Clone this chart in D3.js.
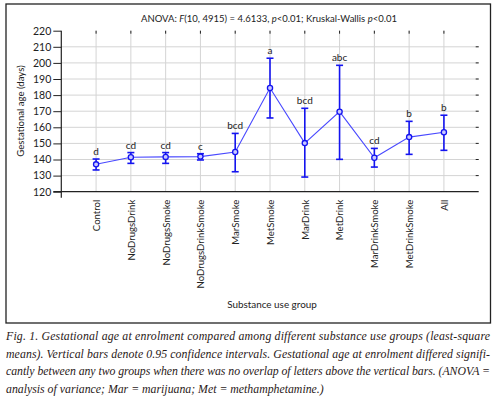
<!DOCTYPE html>
<html><head><meta charset="utf-8">
<script src="https://cdn.jsdelivr.net/npm/d3@7/dist/d3.min.js"></script>
<style>html,body{margin:0;padding:0;background:#fff;}svg{display:block;}</style>
</head><body>
<script>
const categories = ["Control","NoDrugsDrink","NoDrugsSmoke","NoDrugsDrinkSmoke","MarSmoke","MetSmoke","MarDrink","MetDrink","MarDrinkSmoke","MetDrinkSmoke","All"];
const means =  [137.0, 141.4, 141.6, 141.8, 144.7, 184.4, 150.2, 169.7, 141.1, 153.9, 156.9];
const upper =  [140.3, 144.3, 144.3, 143.6, 156.2, 202.9, 171.8, 198.5, 146.9, 163.7, 167.5];
const lower =  [133.5, 137.6, 137.6, 139.7, 132.4, 165.8, 129.1, 140.1, 135.3, 143.2, 145.7];
const letters = ["d","cd","cd","c","bcd","a","bcd","abc","cd","b","b"];
const yTicks = [120,130,140,150,160,170,180,190,200,210,220];
const captionLines = [
  "Fig. 1. Gestational age at enrolment compared among different substance use groups (least-square",
  "means). Vertical bars denote 0.95 confidence intervals. Gestational age at enrolment differed signifi-",
  "cantly between any two groups when there was no overlap of letters above the vertical bars. (ANOVA =",
  "analysis of variance; Mar = marijuana; Met = methamphetamine.)"
];

const W = 497, H = 397;
const svg = d3.select("body").append("svg").attr("width", W).attr("height", H);
const sans = "Lato, 'Noto Sans', sans-serif";

// outer box
svg.append("rect").attr("x", 6).attr("y", 4).attr("width", 484.5).attr("height", 319)
  .attr("fill", "none").attr("stroke", "#222").attr("stroke-width", 1.3);

const L = 61.3, R = 478.7, T = 30.7, B = 191.7;
const x = d3.scalePoint().domain(categories).range([L, R]).padding(1);
const y = d3.scaleLinear().domain([120, 220]).range([B, T]);

// grid
const g = svg.append("g");
g.selectAll("line.hg").data(yTicks.filter(v => v > 120 && v < 220)).join("line")
  .attr("x1", L).attr("x2", R).attr("y1", d => y(d)).attr("y2", d => y(d))
  .attr("stroke", "#d4d4d4").attr("stroke-width", 1);
g.selectAll("line.vg").data(categories).join("line")
  .attr("x1", d => x(d)).attr("x2", d => x(d)).attr("y1", T).attr("y2", B)
  .attr("stroke", "#d4d4d4").attr("stroke-width", 1);

// top ticks and right ticks
g.selectAll("line.tt").data(categories).join("line")
  .attr("x1", d => x(d)).attr("x2", d => x(d)).attr("y1", T).attr("y2", T + 3)
  .attr("stroke", "#222").attr("stroke-width", 1);
g.selectAll("line.rt").data(yTicks.filter(v => v > 120 && v < 220)).join("line")
  .attr("x1", R - 3).attr("x2", R).attr("y1", d => y(d)).attr("y2", d => y(d))
  .attr("stroke", "#222").attr("stroke-width", 1);

// y axis
const yAxis = svg.append("g").attr("transform", `translate(${L},0)`)
  .call(d3.axisLeft(y).tickValues(yTicks).tickSize(8).tickPadding(2).tickSizeOuter(0));
yAxis.select(".domain").remove();
yAxis.append("line").attr("x1", 0).attr("x2", 0).attr("y1", T).attr("y2", B + 6)
  .attr("stroke", "#222").attr("stroke-width", 1.2);
yAxis.selectAll(".tick line").attr("stroke", "#222");
yAxis.selectAll(".tick text").attr("font-family", sans).attr("font-size", 10.5).attr("fill", "#222");

// x axis
const xAxis = svg.append("g").attr("transform", `translate(0,${B})`)
  .call(d3.axisBottom(x).tickSize(0).tickSizeOuter(0));
xAxis.select(".domain").remove();
xAxis.append("line").attr("x1", L - 8).attr("x2", R).attr("y1", 0).attr("y2", 0)
  .attr("stroke", "#222").attr("stroke-width", 1.2);
xAxis.selectAll(".tick text")
  .attr("font-family", sans).attr("font-size", 9.6).attr("fill", "#222")
  .attr("transform", "rotate(-90)").attr("text-anchor", "end")
  .attr("x", -8).attr("y", 0).attr("dy", "0.35em");

// title
const title = svg.append("text").attr("x", 269).attr("y", 21.5).attr("text-anchor", "middle")
  .attr("font-family", sans).attr("font-size", 9.5).attr("fill", "#222");
title.append("tspan").text("ANOVA: ");
title.append("tspan").attr("font-style", "italic").text("F");
title.append("tspan").text("(10, 4915) = 4.6133, ");
title.append("tspan").attr("font-style", "italic").text("p");
title.append("tspan").text("<0.01; Kruskal-Wallis ");
title.append("tspan").attr("font-style", "italic").text("p");
title.append("tspan").text("<0.01");

// axis titles
svg.append("text").attr("transform", `translate(24,111) rotate(-90)`).attr("text-anchor", "middle")
  .attr("font-family", sans).attr("font-size", 9.6).attr("fill", "#222").text("Gestational age (days)");
svg.append("text").attr("x", 272).attr("y", 308).attr("text-anchor", "middle")
  .attr("font-family", sans).attr("font-size", 9.9).attr("fill", "#222").text("Substance use group");

// data
const idx = d3.range(categories.length);
const blue = "#1414f0";
svg.append("path").datum(idx)
  .attr("d", d3.line().x(i => x(categories[i])).y(i => y(means[i])))
  .attr("fill", "none").attr("stroke", "#4848ff").attr("stroke-width", 1.1);

const eb = svg.append("g").attr("stroke", blue).attr("stroke-width", 1.6);
eb.selectAll("line.v").data(idx).join("line")
  .attr("x1", i => x(categories[i])).attr("x2", i => x(categories[i]))
  .attr("y1", i => y(upper[i])).attr("y2", i => y(lower[i]));
eb.selectAll("line.u").data(idx).join("line")
  .attr("x1", i => x(categories[i]) - 3.5).attr("x2", i => x(categories[i]) + 3.5)
  .attr("y1", i => y(upper[i])).attr("y2", i => y(upper[i]));
eb.selectAll("line.l").data(idx).join("line")
  .attr("x1", i => x(categories[i]) - 3.5).attr("x2", i => x(categories[i]) + 3.5)
  .attr("y1", i => y(lower[i])).attr("y2", i => y(lower[i]));

svg.append("g").selectAll("circle").data(idx).join("circle")
  .attr("cx", i => x(categories[i])).attr("cy", i => y(means[i])).attr("r", 2.6)
  .attr("fill", "#c8c8ff").attr("stroke", blue).attr("stroke-width", 1.3);

svg.append("g").selectAll("text").data(idx).join("text")
  .attr("x", i => x(categories[i])).attr("y", i => y(upper[i]) - 4)
  .attr("text-anchor", "middle").attr("font-family", sans).attr("font-size", 10).attr("fill", "#222")
  .text(i => letters[i]);

// caption
const cap = svg.append("g").attr("font-family", "'Liberation Serif', 'DejaVu Serif', serif")
  .attr("font-style", "italic").attr("font-size", 11.8).attr("fill", "#2a2018");
const capY = [340, 357.5, 375, 392.5];
captionLines.forEach((t, i) => {
  const el = cap.append("text").attr("x", 6).attr("y", capY[i]).text(t);
  if (i < 3) el.attr("textLength", 484).attr("lengthAdjust", "spacing");
});
</script>
</body></html>
